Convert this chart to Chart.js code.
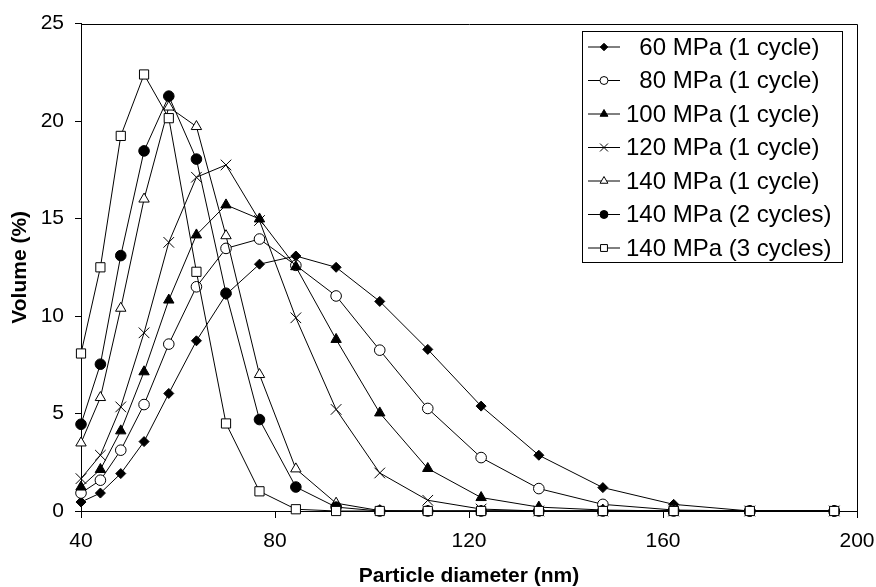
<!DOCTYPE html>
<html>
<head>
<meta charset="utf-8">
<title>Particle size distribution</title>
<script src="https://cdn.jsdelivr.net/npm/chart.js@4.4.1/dist/chart.umd.min.js"></script>
<style>
  body { margin: 0; background: #fff; }
  canvas { display: block; }
</style>
</head>
<body>
<canvas id="sizeChart" width="876" height="587"></canvas>
<script>
// particle diameter bins (nm)
const diameters = [40, 44, 48.2, 53, 58.1, 63.8, 69.9, 76.8, 84.3, 92.6, 101.6, 111.5, 122.5, 134.4, 147.6, 162.2, 177.9, 195.3];

// volume (%) per bin for each homogenising pressure / number of passes
const mpa60 = [0.46, 0.92, 1.92, 3.56, 6.03, 8.73, 11.1, 12.66, 13.08, 12.5, 10.75, 8.29, 5.38, 2.86, 1.2, 0.34, 0, 0];
const mpa80 = [0.92, 1.58, 3.12, 5.46, 8.56, 11.5, 13.47, 13.95, 12.6, 11.03, 8.25, 5.26, 2.74, 1.15, 0.34, 0.05, 0, 0];
const mpa100 = [1.23, 2.13, 4.11, 7.14, 10.82, 14.16, 15.7, 14.98, 12.53, 8.8, 5.03, 2.18, 0.69, 0.2, 0.05, 0, 0, 0];
const mpa120 = [1.66, 2.86, 5.34, 9.14, 13.78, 17.12, 17.75, 14.9, 9.91, 5.21, 1.95, 0.55, 0.1, 0, 0, 0, 0, 0];
const mpa140 = [3.49, 5.82, 10.4, 16.0, 20.72, 19.72, 14.12, 7.0, 2.16, 0.4, 0.02, 0, 0, 0, 0, 0, 0, 0];
const mpa140x2 = [4.45, 7.53, 13.1, 18.47, 21.28, 18.05, 11.17, 4.69, 1.23, 0.2, 0, 0, 0, 0, 0, 0, 0, 0];
const mpa140x3 = [8.08, 12.5, 19.24, 22.39, 20.15, 12.27, 4.49, 1.01, 0.09, 0, 0, 0, 0, 0, 0, 0, 0, 0];

const seriesLabels = ['60 MPa (1 cycle)', '80 MPa (1 cycle)', '100 MPa (1 cycle)', '120 MPa (1 cycle)',
    '140 MPa (1 cycle)', '140 MPa (2 cycles)', '140 MPa (3 cycles)'];
const xTicks = [40, 80, 120, 160, 200];
const yTicks = [0, 5, 10, 15, 20, 25];

const series = [mpa60, mpa80, mpa100, mpa120, mpa140, mpa140x2, mpa140x3];

// marker look per series
const markerStyles = ['rectRot', 'circle', 'triangle', 'crossRot', 'triangle', 'circle', 'rect'];
const markerFilled = [true, false, true, false, false, true, false];
const markerSizes = [5, 5.3, 6, 7.5, 6, 5.3, 6.5];

const FONT = '"Liberation Sans", Arial, sans-serif';

// box round the plot area (top and right sides)
const frameBox = {
    id: 'frameBox',
    beforeDatasetsDraw(chart) {
        const {ctx, chartArea: a} = chart;
        ctx.save();
        ctx.strokeStyle = '#000';
        ctx.lineWidth = 1;
        ctx.beginPath();
        ctx.moveTo(Math.round(a.left) + 0.5, Math.round(a.top) + 0.5);
        ctx.lineTo(Math.round(a.right) + 0.5, Math.round(a.top) + 0.5);
        ctx.lineTo(Math.round(a.right) + 0.5, Math.round(a.bottom) + 0.5);
        ctx.stroke();
        ctx.restore();
    }
};

// legend with line + marker samples inside a framed box
const boxLegend = {
    id: 'boxLegend',
    afterDatasetsDraw(chart) {
        const ctx = chart.ctx;
        const left = 582, top = 31, width = 260, height = 231;
        ctx.save();
        ctx.fillStyle = '#fff';
        ctx.fillRect(left, top, width, height);
        ctx.strokeStyle = '#000';
        ctx.lineWidth = 1;
        ctx.strokeRect(left + 0.5, top + 0.5, width, height);

        ctx.font = '24px ' + FONT;
        ctx.textBaseline = 'middle';
        const digit = ctx.measureText('0').width;

        chart.data.datasets.forEach((ds, i) => {
            const y = top + 16 + i * 33.5;
            ctx.strokeStyle = '#000';
            ctx.lineWidth = 1;
            ctx.beginPath();
            ctx.moveTo(588, y);
            ctx.lineTo(620, y);
            ctx.stroke();

            ctx.fillStyle = markerFilled[i] ? '#000' : '#fff';
            Chart.helpers.drawPoint(ctx, {
                pointStyle: markerStyles[i],
                radius: markerSizes[i] * 0.75,
                rotation: 0,
                borderWidth: 1
            }, 604, y);

            ctx.fillStyle = '#000';
            const pad = /^\d\d /.test(ds.label) ? digit : 0;
            ctx.fillText(ds.label, 626 + pad, y + 1);
        });
        ctx.restore();
    }
};

new Chart(document.getElementById('sizeChart'), {
    type: 'line',
    data: {
        datasets: series.map((vals, i) => ({
            label: seriesLabels[i],
            data: vals.map((v, j) => ({x: diameters[j], y: v})),
            borderColor: '#000',
            borderWidth: 1,
            pointStyle: markerStyles[i],
            pointRadius: markerSizes[i],
            pointBackgroundColor: markerFilled[i] ? '#000' : '#fff',
            pointBorderColor: '#000',
            pointBorderWidth: 1,
            tension: 0,
            fill: false,
            clip: false,
            order: series.length - i
        }))
    },
    options: {
        responsive: false,
        animation: false,
        devicePixelRatio: 1,
        layout: { padding: { top: 23, right: 19, left: 0, bottom: 0 } },
        plugins: {
            legend: { display: false },
            tooltip: { enabled: false }
        },
        scales: {
            x: {
                type: 'linear',
                min: 40,
                max: 200,
                afterBuildTicks(scale) { scale.ticks = xTicks.map(v => ({value: v})); },
                afterFit(scale) {
                    scale.height = 76;
                    // end labels may hang over the plot edge
                    scale.paddingLeft = 0;
                    scale.paddingRight = 0;
                },
                ticks: { color: '#000', font: { family: FONT, size: 21 }, padding: 11, maxRotation: 0 },
                grid: { drawOnChartArea: false, drawTicks: true, tickLength: 7, color: '#000' },
                border: { display: true, color: '#000', width: 1 },
                title: {
                    display: true,
                    text: 'Particle diameter (nm)',
                    color: '#000',
                    font: { family: FONT, size: 21, weight: 'bold', lineHeight: 1 },
                    padding: { top: 0, bottom: 0 }
                }
            },
            y: {
                min: 0,
                max: 25,
                afterBuildTicks(scale) { scale.ticks = yTicks.map(v => ({value: v})); },
                afterFit(scale) { scale.width = 81; },
                ticks: { color: '#000', font: { family: FONT, size: 21 }, padding: 11 },
                grid: { drawOnChartArea: false, drawTicks: true, tickLength: 6, color: '#000' },
                border: { display: true, color: '#000', width: 1 },
                title: {
                    display: true,
                    text: 'Volume (%)',
                    color: '#000',
                    font: { family: FONT, size: 21, weight: 'bold', lineHeight: 1 },
                    padding: { top: 10, bottom: 0 }
                }
            }
        }
    },
    plugins: [frameBox, boxLegend]
});
</script>
</body>
</html>
